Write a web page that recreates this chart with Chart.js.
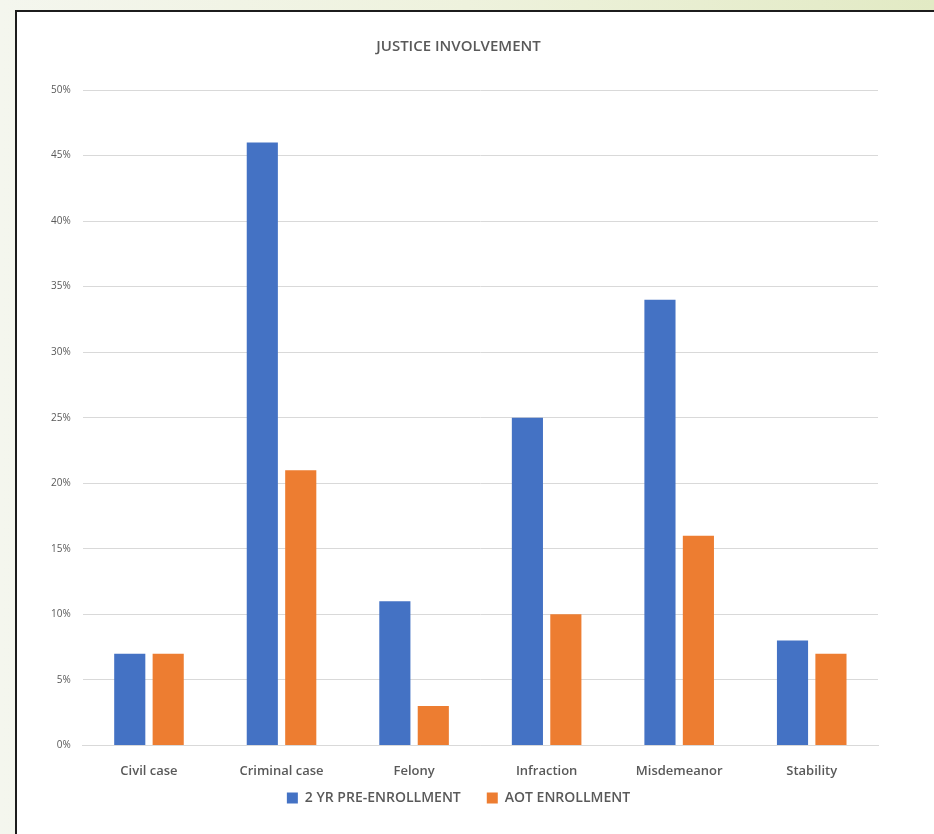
<!DOCTYPE html>
<html>
<head>
<meta charset="utf-8">
<script src="https://cdn.jsdelivr.net/npm/chart.js@4/dist/chart.umd.min.js"></script>
<style>
  html, body { margin: 0; padding: 0; }
  body {
    width: 934px; height: 834px; overflow: hidden;
    background: linear-gradient(to right, #f4f6ee 0%, #eef2dd 50%, #e2eac4 100%);
    position: relative;
  }
  #frame {
    position: absolute; left: 15px; top: 10px; width: 930px; height: 830px;
    background: #fff;
    border-left: 2px solid #1c1c1c; border-top: 2px solid #1c1c1c;
  }
  #wrap { position: absolute; left: 17px; top: 12px; width: 917px; height: 822px; }
</style>
</head>
<body>
<div id="frame"></div>
<div id="wrap"><canvas id="justice"></canvas></div>
<script>
// data
const categories = ["Civil case", "Criminal case", "Felony", "Infraction", "Misdemeanor", "Stability"];
const preEnrollment = [7, 46, 11, 25, 34, 8];
const aotEnrollment = [7, 21, 3, 10, 16, 7];
const yTicks = [0, 5, 10, 15, 20, 25, 30, 35, 40, 45, 50];

const FONT = "'Open Sans', 'Liberation Sans', sans-serif";
const LEGEND_TRIM = 32; // pull the legend up closer to the axis labels

// legend padding also spaces the items apart; trim the extra height it adds
const tightLegend = {
  id: "tightLegend",
  afterInit(chart) {
    const legend = chart.legend;
    const fit = legend.fit;
    legend.fit = function () {
      fit.call(this);
      this.height -= LEGEND_TRIM;
    };
    legend.draw = function () {
      if (!this.options.display) return;
      this.ctx.save();
      this.ctx.translate(0, -LEGEND_TRIM);
      this._draw();
      this.ctx.restore();
    };
  },
};

const config = {
  type: "bar",
  data: {
    labels: categories,
    datasets: [
      {
        label: "2 YR PRE-ENROLLMENT",
        data: preEnrollment,
        backgroundColor: "#4472c4",
        categoryPercentage: 0.58,
        barPercentage: 0.81,
      },
      {
        label: "AOT ENROLLMENT",
        data: aotEnrollment,
        backgroundColor: "#ed7d31",
        categoryPercentage: 0.58,
        barPercentage: 0.81,
      },
    ],
  },
  options: {
    responsive: true,
    maintainAspectRatio: false,
    animation: false,
    layout: { padding: { left: 22, right: 56, top: 0, bottom: 19 } },
    plugins: {
      title: {
        display: true,
        text: "JUSTICE INVOLVEMENT",
        color: "#595959",
        font: { family: FONT, size: 15, weight: "600" },
        padding: { top: 26, bottom: 34 },
      },
      legend: {
        position: "bottom",
        labels: {
          boxWidth: 11,
          boxHeight: 11,
          color: "#595959",
          font: { family: FONT, size: 14, weight: "600" },
          padding: 26,
        },
      },
      tooltip: { enabled: false },
    },
    scales: {
      x: {
        grid: { display: false, drawTicks: false },
        border: { display: true, color: "#d9d9d9", width: 1 },
        ticks: {
          color: "#595959",
          font: { family: FONT, size: 13, weight: "600" },
          padding: 18,
        },
      },
      y: {
        min: 0,
        max: 50,
        afterBuildTicks: (axis) => { axis.ticks = yTicks.map((v) => ({ value: v })); },
        grid: { color: "#d9d9d9", drawTicks: false },
        border: { display: false },
        ticks: {
          color: "#595959",
          font: { family: FONT, size: 10 },
          padding: 12,
          callback: (v) => v + "%",
        },
      },
    },
  },
  plugins: [tightLegend],
};

const justiceChart = new Chart(document.getElementById("justice"), config);
</script>
</body>
</html>
